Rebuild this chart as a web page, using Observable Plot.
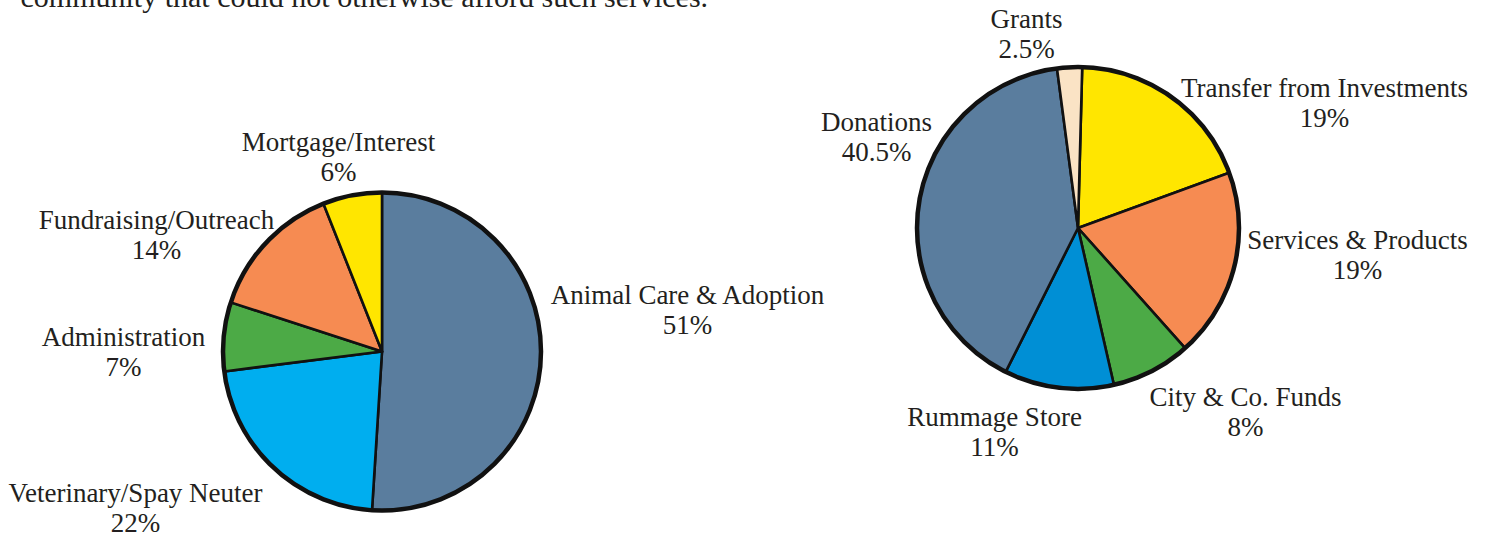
<!DOCTYPE html>
<html>
<head>
<meta charset="utf-8">
<script src="https://cdn.jsdelivr.net/npm/d3@7"></script>
<script src="https://cdn.jsdelivr.net/npm/@observablehq/plot@0.6"></script>
<style>
  html, body { margin: 0; padding: 0; background: #fff; }
  #chart { width: 1485px; height: 536px; overflow: hidden; }
</style>
</head>
<body>
<div id="chart"></div>
<script>
// ---- Data ----
const expenseCategories = ["Animal Care & Adoption", "Veterinary/Spay Neuter", "Administration", "Fundraising/Outreach", "Mortgage/Interest"];
const expenseValues = [51, 22, 7, 14, 6];
const expenseLabels = ["51%", "22%", "7%", "14%", "6%"];

const revenueCategories = ["Transfer from Investments", "Services & Products", "City & Co. Funds", "Rummage Store", "Donations", "Grants"];
const revenueValues = [19, 19, 8, 11, 40.5, 2.5];
const revenueLabels = ["19%", "19%", "8%", "11%", "40.5%", "2.5%"];

const introText = "community that could not otherwise afford such services.";

// ---- Styles ----
const expenseColors = ["#5a7d9e", "#00aeef", "#4caa46", "#f68b52", "#ffe600"];
const revenueColors = ["#ffe600", "#f68b52", "#4caa46", "#008fd5", "#5a7d9e", "#fae3c5"];

// ---- Layout (pixels) ----
const W = 1485, H = 536;
const expensePie = {cx: 381.5, cy: 351, r: 159, start: 0};
const revenuePie = {cx: 1077.5, cy: 227.5, r: 161, start: 1.5};
// label anchor = baseline of the last line, centred
const expenseLabelPos = [[687, 333], [135, 531], [123, 375], [156, 258], [338, 180]];
const revenueLabelPos = [[1324, 126], [1357, 278], [1245, 435], [994, 455], [876, 160], [1026, 57]];

function slices(cats, vals, pie, group) {
  const total = d3.sum(vals);
  const pts = [];
  let acc = 0;
  cats.forEach((c, i) => {
    const a0 = (pie.start + acc / total * 360) * Math.PI / 180;
    acc += vals[i];
    const a1 = (pie.start + acc / total * 360) * Math.PI / 180;
    const key = group + ":" + c;
    pts.push({key, cat: c, x: pie.cx, y: pie.cy});
    const n = Math.max(2, Math.ceil((a1 - a0) * 180 / Math.PI * 2));
    for (let k = 0; k <= n; k++) {
      const a = a0 + (a1 - a0) * k / n;
      pts.push({key, cat: c, x: pie.cx + pie.r * Math.sin(a), y: pie.cy - pie.r * Math.cos(a)});
    }
    pts.push({key, cat: c, x: pie.cx, y: pie.cy});
  });
  return pts;
}

const slicePoints = [
  ...slices(expenseCategories, expenseValues, expensePie, "exp"),
  ...slices(revenueCategories, revenueValues, revenuePie, "rev")
];

const labelRows = [
  ...expenseCategories.map((c, i) => ({text: c + "\n" + expenseLabels[i], x: expenseLabelPos[i][0], y: expenseLabelPos[i][1]})),
  ...revenueCategories.map((c, i) => ({text: c + "\n" + revenueLabels[i], x: revenueLabelPos[i][0], y: revenueLabelPos[i][1]}))
];

const chart = Plot.plot({
  width: W,
  height: H,
  margin: 0,
  x: {domain: [0, W], range: [0, W], axis: null},
  y: {domain: [0, H], range: [0, H], axis: null},
  color: {
    domain: [...expenseCategories.map(c => "exp:" + c), ...revenueCategories.map(c => "rev:" + c)],
    range: [...expenseColors, ...revenueColors]
  },
  style: {fontFamily: "'Liberation Serif', serif", background: "#fff", color: "#231f20"},
  marks: [
    Plot.line(slicePoints, {x: "x", y: "y", z: "key", fill: "key", stroke: "#111", strokeWidth: 2.6, strokeLinejoin: "round", curve: "linear"}),
    Plot.dot([expensePie], {x: "cx", y: "cy", r: expensePie.r, fill: "none", stroke: "#111", strokeWidth: 4.5}),
    Plot.dot([revenuePie], {x: "cx", y: "cy", r: revenuePie.r, fill: "none", stroke: "#111", strokeWidth: 4.5}),
    Plot.text(labelRows, {x: "x", y: "y", text: "text", textAnchor: "middle", lineAnchor: "bottom", lineHeight: 1.11, fontSize: 27, fill: "#231f20"}),
    Plot.text([introText], {x: 20, y: 6, text: d => d, textAnchor: "start", lineAnchor: "bottom", fontSize: 30, fill: "#231f20"})
  ]
});

document.getElementById("chart").appendChild(chart);
</script>
</body>
</html>
